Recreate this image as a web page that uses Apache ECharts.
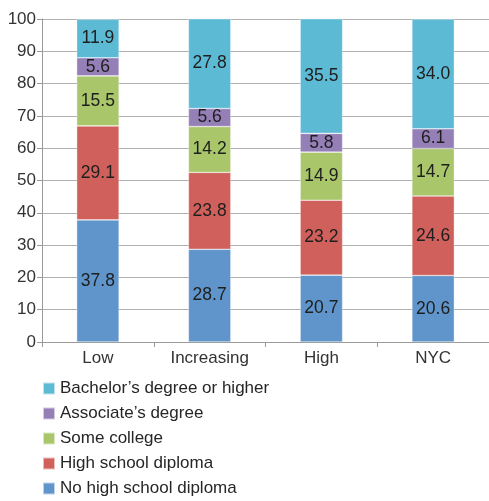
<!DOCTYPE html>
<html>
<head>
<meta charset="utf-8">
<script src="https://cdn.jsdelivr.net/npm/echarts@6/dist/echarts.min.js"></script>
<style>
  html, body { margin: 0; padding: 0; background: #fff; }
  #chart { width: 489px; height: 501px; }
</style>
</head>
<body>
<div id="chart"></div>
<script>
// Educational attainment (%) by neighborhood group
const categories = ['Low', 'Increasing', 'High', 'NYC'];
const noHighSchool = [37.8, 28.7, 20.7, 20.6];
const highSchool = [29.1, 23.8, 23.2, 24.6];
const someCollege = [15.5, 14.2, 14.9, 14.7];
const associate = [5.6, 5.6, 5.8, 6.1];
const bachelor = [11.9, 27.8, 35.5, 34.0];
const yTicks = [0, 10, 20, 30, 40, 50, 60, 70, 80, 90, 100];

const seriesDefs = [
  { name: 'No high school diploma', data: noHighSchool, color: '#5f95cb' },
  { name: 'High school diploma', data: highSchool, color: '#d0605b' },
  { name: 'Some college', data: someCollege, color: '#a9c66b' },
  { name: 'Associate\u2019s degree', data: associate, color: '#957fb7' },
  { name: 'Bachelor\u2019s degree or higher', data: bachelor, color: '#5cbad5' }
];

const font = 'Liberation Sans, Arial, sans-serif';
const chart = echarts.init(document.getElementById('chart'));

chart.setOption({
  animation: false,
  grid: { left: 42, top: 19, width: 452, height: 323, containLabel: false },
  legend: {
    orient: 'vertical',
    left: 42,
    top: 380,
    padding: 0,
    itemWidth: 12,
    itemHeight: 12,
    itemGap: 8,
    icon: 'rect',
    data: seriesDefs.map(s => s.name).reverse(),
    textStyle: { fontFamily: font, fontSize: 17, lineHeight: 17, color: '#262626' }
  },
  xAxis: {
    type: 'category',
    data: categories,
    boundaryGap: true,
    axisLine: { lineStyle: { color: '#9a9a9a', width: 1 } },
    axisTick: { show: true, alignWithLabel: false, length: 5, lineStyle: { color: '#9a9a9a' } },
    axisLabel: { fontFamily: font, fontSize: 17, color: '#333', margin: 8 }
  },
  yAxis: {
    type: 'value',
    min: yTicks[0],
    max: yTicks[yTicks.length - 1],
    interval: yTicks[1] - yTicks[0],
    axisLine: { show: true, lineStyle: { color: '#9a9a9a', width: 1 } },
    axisTick: { show: true, length: 5, lineStyle: { color: '#9a9a9a' } },
    splitLine: { lineStyle: { color: '#b0b0b0', width: 1 } },
    axisLabel: { fontFamily: font, fontSize: 17, color: '#333', margin: 6 }
  },
  series: seriesDefs.map(s => ({
    name: s.name,
    type: 'bar',
    stack: 'total',
    barWidth: '38%',
    data: s.data,
    itemStyle: { color: s.color, borderColor: 'rgba(255,255,255,0.6)', borderWidth: 0.6 },
    label: {
      show: true,
      position: 'inside',
      fontFamily: font,
      fontSize: 17.5,
      color: '#1e1e1e',
      formatter: p => p.value.toFixed(1)
    }
  }))
});
</script>
</body>
</html>
